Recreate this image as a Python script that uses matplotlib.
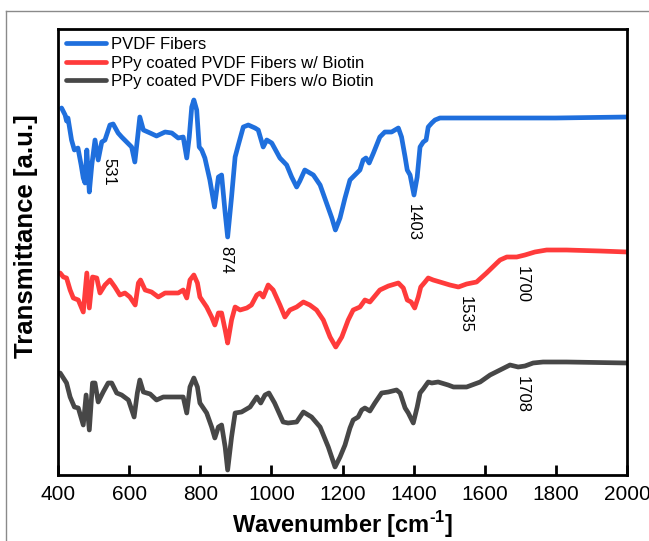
import matplotlib
matplotlib.use("Agg")
import matplotlib.pyplot as plt
from matplotlib.lines import Line2D

plt.rcParams['font.family'] = ['Liberation Sans', 'DejaVu Sans']
plt.rcParams['mathtext.fontset'] = 'custom'
plt.rcParams['mathtext.rm'] = 'Liberation Sans:bold'
plt.rcParams['mathtext.bf'] = 'Liberation Sans:bold'

# FTIR spectra (transmittance in arbitrary units, curves already offset)
wn_pvdf = [410, 420, 424, 428, 438, 446, 456, 465, 471, 476, 481, 488, 495, 504, 513, 523,
           532, 546, 555, 569, 579, 593, 607, 616, 623, 630, 640, 659, 677, 701, 720, 738,
           752, 762, 769, 776, 782, 790, 797, 804, 813, 827, 840, 851, 860, 870, 877, 888,
           898, 907, 921, 935, 954, 963, 977, 987, 1001, 1024, 1043, 1057, 1071, 1080, 1094,
           1118, 1137, 1155, 1170, 1180, 1193, 1207, 1221, 1235, 1249, 1258, 1266, 1275, 1287,
           1305, 1319, 1338, 1357, 1366, 1376, 1382, 1390, 1401, 1410, 1418, 1427, 1435, 1441,
           1451, 1460, 1474, 1600, 1800, 2000]
t_pvdf = [367, 360, 354, 357, 335, 325, 327, 310, 297, 292, 325, 283, 310, 335, 315, 333,
          335, 350, 351, 342, 338, 333, 328, 313, 335, 358, 345, 342, 339, 343, 342, 337,
          338, 317, 338, 368, 375, 365, 328, 325, 317, 295, 268, 298, 300, 262, 238, 278,
          318, 330, 348, 350, 347, 345, 328, 335, 332, 317, 310, 298, 288, 294, 305,
          300, 290, 272, 257, 245, 257, 277, 295, 300, 305, 315, 317, 312, 322,
          338, 343, 343, 347, 338, 318, 305, 300, 280, 298, 328, 333, 335, 348,
          352, 355, 357, 357, 357, 358]

wn_biotin = [406, 415, 424, 434, 443, 457, 471, 481, 488, 497, 509, 518, 532, 546, 560, 574,
             588, 602, 617, 626, 632, 645, 663, 682, 701, 738, 752, 762, 771, 782, 792, 799,
             818, 832, 841, 851, 860, 870, 877, 888, 898, 912, 931, 944, 959, 968, 977, 991,
             1005, 1024, 1038, 1052, 1071, 1090, 1108, 1127, 1146, 1165, 1181, 1198, 1216,
             1230, 1249, 1263, 1277, 1305, 1329, 1357, 1371, 1382, 1393, 1403, 1413, 1420,
             1432, 1441, 1455, 1474, 1502, 1526, 1549, 1577, 1605, 1634, 1643, 1662, 1690,
             1713, 1741, 1774, 1830, 1924, 2000]
t_biotin = [202, 198, 197, 185, 177, 175, 163, 202, 167, 198, 197, 182, 190, 195, 188, 180,
            182, 178, 170, 192, 195, 185, 183, 178, 182, 182, 185, 177, 195, 200, 192, 178,
            168, 158, 150, 162, 162, 145, 132, 155, 168, 165, 167, 170, 180, 182, 178, 190,
            185, 170, 158, 165, 168, 173, 170, 165, 155, 138, 128, 138, 155,
            165, 168, 175, 173, 185, 189, 192, 187, 175, 173, 167, 178, 188,
            193, 197, 195, 193, 190, 188, 191, 193, 202, 212, 215, 218, 218,
            220, 223, 225, 225, 224, 223]

wn_nobiotin = [406, 415, 424, 434, 446, 457, 471, 479, 488, 497, 504, 513, 527, 541, 551, 565,
               579, 598, 614, 623, 630, 640, 659, 677, 696, 738, 752, 762, 771, 782, 792, 799,
               818, 832, 841, 851, 860, 870, 877, 888, 898, 916, 940, 959, 970, 982, 993,
               1009, 1033, 1047, 1071, 1090, 1113, 1137, 1160, 1179, 1193, 1207, 1221, 1230,
               1244, 1254, 1263, 1277, 1291, 1310, 1329, 1352, 1362, 1376, 1385, 1399, 1410,
               1418, 1427, 1441, 1451, 1469, 1497, 1512, 1549, 1587, 1615, 1643, 1671, 1694,
               1713, 1736, 1764, 1830, 2000]
t_nobiotin = [102, 97, 92, 78, 68, 67, 50, 80, 45, 92, 92, 73, 83, 92, 92, 82,
              80, 75, 58, 82, 95, 83, 81, 75, 78, 78, 78, 62, 88, 97, 88, 72,
              62, 48, 37, 48, 50, 28, 5, 38, 62, 63, 68, 78, 72, 80, 82,
              72, 53, 52, 53, 63, 58, 48, 28, 8, 18, 30, 47, 55,
              58, 65, 67, 64, 72, 82, 83, 85, 82, 67, 62, 52, 68,
              82, 86, 93, 92, 93, 90, 88, 88, 93, 100, 105, 110, 108,
              109, 112, 113, 113, 112]

series_labels = ['PVDF Fibers', 'PPy coated PVDF Fibers w/ Biotin', 'PPy coated PVDF Fibers w/o Biotin']
series_colors = ['#1F6FDD', '#FF3B3B', '#474747']

# peak annotations: (text, wavenumber, y position)
peak_labels = ['531', '874', '1403', '1535', '1700', '1708']
peak_x = [543, 873, 1400, 1545, 1706, 1706]
peak_y = [303, 215, 252, 160, 190, 80]

fig = plt.figure(figsize=(6.49, 5.41), dpi=100)
ax = fig.add_axes([0.0894, 0.122, 0.8767, 0.8244])

for wn, t, lab, col in zip([wn_pvdf, wn_biotin, wn_nobiotin],
                           [t_pvdf, t_biotin, t_nobiotin], series_labels, series_colors):
    ax.plot(wn, t, color=col, lw=3.4, label=lab, solid_capstyle='round', solid_joinstyle='round')

for txt, x, y in zip(peak_labels, peak_x, peak_y):
    ax.text(x, y, txt, rotation=-90, ha='center', va='center', fontsize=12)

ax.set_xlim(400, 2000)
ax.set_ylim(0, 446)
ax.set_xticks(range(400, 2001, 200))
ax.set_yticks([])
ax.tick_params(axis='x', direction='in', length=7, width=2, labelsize=15, pad=7)
for sp in ax.spines.values():
    sp.set_linewidth(2)

ax.set_xlabel(r'Wavenumber [cm$^{\text{-1}}$]', fontsize=17, fontweight='bold', labelpad=4)
ax.set_ylabel('Transmittance [a.u.]', fontsize=18.5, fontweight='bold')
ax.yaxis.set_label_coords(-0.036, 0.535)

ax.legend(loc='upper left', frameon=False, fontsize=12, handlelength=2.4, handletextpad=0.25,
          labelspacing=0.2, borderaxespad=0.2, borderpad=0.3)

# thin grey frame of the original figure
fig.add_artist(Line2D([6 / 649, 6 / 649], [0, 1 - 11 / 541], color='#8a8a8a', lw=1))
fig.add_artist(Line2D([6 / 649, 1], [1 - 11 / 541, 1 - 11 / 541], color='#8a8a8a', lw=1))

fig.savefig('out.png', dpi=100)
